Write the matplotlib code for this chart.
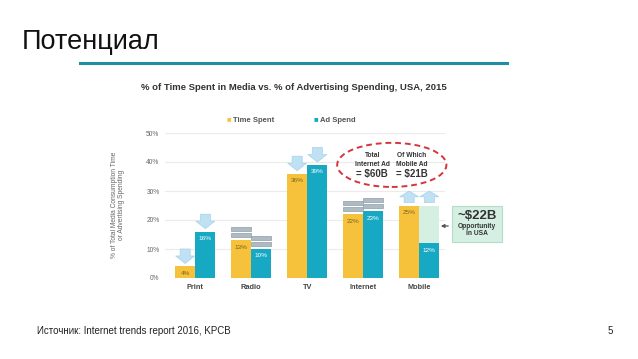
import numpy as np
import matplotlib.pyplot as plt
from matplotlib.patches import Rectangle, Ellipse, Polygon

plt.rcParams['font.family'] = ['Liberation Sans', 'DejaVu Sans']

# ---- data ----
categories = ["Print", "Radio", "TV", "Internet", "Mobile"]
time_spent = [4, 13, 36, 22, 25]
ad_spend = [16, 10, 39, 23, 12]
# marker above each pair: "down" = overspent/underspent arrows, "eq" = balanced, "up" = growth
markers = ["down", "eq", "down", "eq", "up"]
yticks = [0, 10, 20, 30, 40, 50]

YEL = "#f6c23c"; BLU = "#17a9c4"; GRN = "#d6efe3"; ARW = "#bfe1f3"; GRY = "#aebbc2"

W, H = 638, 359
fig = plt.figure(figsize=(W / 100, H / 100), dpi=100)
fx = lambda x: x / W
fy = lambda y: 1 - y / H

# slide title + rule
fig.text(fx(22), fy(42), "Потенциал", fontsize=19.5, color="#111", va="center", ha="left")
fig.add_artist(plt.Line2D([fx(80), fx(507)], [fy(63), fy(63)], color="#1d8ea3", lw=2.2))
fig.text(fx(37), fy(331), "Источник: Internet trends report 2016, KPCB", fontsize=7,
         color="#222", va="center")
fig.text(fx(610), fy(331), "5", fontsize=7, color="#222", va="center", ha="center")

# chart title + legend
fig.text(fx(294), fy(87), "% of Time Spent in Media vs. % of Advertising Spending, USA, 2015",
         fontsize=6.8, fontweight="bold", color="#333", ha="center", va="center")
fig.text(fx(229), fy(120), "■", fontsize=5.5, color=YEL, ha="center", va="center")
fig.text(fx(233), fy(120), "Time Spent", fontsize=5.5, fontweight="bold", color="#555", va="center")
fig.text(fx(316), fy(120), "■", fontsize=5.5, color=BLU, ha="center", va="center")
fig.text(fx(320), fy(120), "Ad Spend", fontsize=5.5, fontweight="bold", color="#555", va="center")

# axes: x 165..445 px, y 0%->278 px, 50%->133 px
ax = fig.add_axes([fx(165), fy(278), (445 - 165) / W, (278 - 133) / H])
x = np.arange(len(categories))
bw = 0.36
ax.bar(x - bw / 2, time_spent, bw, color=YEL, zorder=3)
ax.bar(x + bw / 2, ad_spend, bw, color=BLU, zorder=3)
# mobile opportunity gap (ad spend up to time spent level)
ax.bar(x[-1] + bw / 2, time_spent[-1] - ad_spend[-1], bw, bottom=ad_spend[-1], color=GRN, zorder=2)

for i in range(len(categories)):
    ax.text(x[i] - bw / 2, time_spent[i] - 2.4, f"{time_spent[i]}%", ha="center", va="center",
            fontsize=4.6, color="#7a6322", zorder=4)
    ax.text(x[i] + bw / 2, ad_spend[i] - 2.4, f"{ad_spend[i]}%", ha="center", va="center",
            fontsize=4.6, color="white", zorder=4)

def down_arrow(cx, top):
    y0 = top + 1.0; y1 = y0 + 5.0; hh = 2.6
    pts = [(cx - 0.17, y0 + hh), (cx, y0), (cx + 0.17, y0 + hh), (cx + 0.09, y0 + hh),
           (cx + 0.09, y1), (cx - 0.09, y1), (cx - 0.09, y0 + hh)]
    ax.add_patch(Polygon(pts, closed=True, fc=ARW, ec="#a6d3ea", lw=0.5, zorder=3))

def up_arrow(cx, top):
    y0 = top + 1.0; y1 = y0 + 4.0; hh = 2.0
    pts = [(cx - 0.17, y1 - hh), (cx, y1), (cx + 0.17, y1 - hh), (cx + 0.09, y1 - hh),
           (cx + 0.09, y0), (cx - 0.09, y0), (cx - 0.09, y1 - hh)]
    ax.add_patch(Polygon(pts, closed=True, fc=ARW, ec="#a6d3ea", lw=0.5, zorder=3))

def eq_sign(cx, top):
    for k in range(2):
        yb = top + 1.0 + k * 2.2
        ax.add_patch(Rectangle((cx - 0.18, yb), 0.36, 1.4, fc=GRY, ec="#8e9fa8", lw=0.5, zorder=3))

for i, m in enumerate(markers):
    for cx, v in [(x[i] - bw / 2, time_spent[i]), (x[i] + bw / 2, ad_spend[i])]:
        if m == "down":
            down_arrow(cx, v)
        elif m == "eq":
            eq_sign(cx, v)
        else:
            up_arrow(cx, max(time_spent[i], v))

ax.set_xlim(-0.54, 4.46)
ax.set_ylim(0, 50)
ax.set_yticks(yticks, [f"{t}%" for t in yticks], fontsize=4.8, color="#666")
ax.set_xticks(x, categories, fontsize=5.3, fontweight="bold", color="#444")
ax.tick_params(length=0, pad=4)
ax.grid(axis="y", color="#ebebeb", lw=0.8, zorder=0)
for s in ax.spines.values():
    s.set_visible(False)

fig.text(fx(118), fy(205), "% of Total Media Consumption Time\nor Advertising Spending",
         rotation=90, fontsize=4.8, color="#666", ha="center", va="center", linespacing=1.1)

# internet ad callout
ax.add_patch(Ellipse((3.51, 39), 1.95, 15.2, fill=False, ec="#d6343c", lw=1.4,
                     ls=(0, (3, 2)), clip_on=False, zorder=5))
for cx, l1, l2, l3 in [(3.16, "Total", "Internet Ad", "= $60B"), (3.87, "Of Which", "Mobile Ad", "= $21B")]:
    ax.text(cx, 42.4, l1, ha="center", va="center", fontsize=4.8, fontweight="bold", color="#333", clip_on=False)
    ax.text(cx, 39.3, l2, ha="center", va="center", fontsize=4.8, fontweight="bold", color="#333", clip_on=False)
    ax.text(cx, 36.0, l3, ha="center", va="center", fontsize=7, fontweight="bold", color="#333", clip_on=False)

# opportunity box
fig.add_artist(Rectangle((fx(452), fy(242)), 50 / W, 36 / H, transform=fig.transFigure,
                         fc=GRN, ec="#b4dcc6", lw=0.8))
fig.text(fx(477), fy(216), "~$22B", fontsize=9.5, fontweight="bold", color="#333", ha="center", va="center")
fig.text(fx(477), fy(230), "Opportunity\nin USA", fontsize=4.8, fontweight="bold", color="#333",
         ha="center", va="center", linespacing=1.15)
ax.annotate("", xy=(fx(438), fy(226)), xytext=(fx(451), fy(226)), xycoords="figure fraction",
            textcoords="figure fraction",
            arrowprops=dict(arrowstyle="-|>", color="#555", lw=0.9, mutation_scale=5))

fig.savefig("out.png", dpi=100)
